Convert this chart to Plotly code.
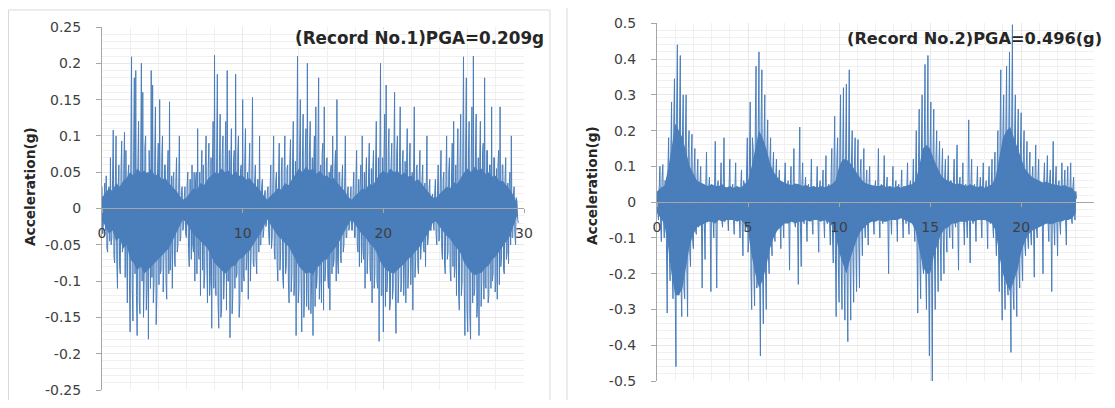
import numpy as np
import plotly.graph_objects as go

# ---------------- data (accelerations in milli-g) ----------------
DT1 = 0.05   # s, sample step of record No.1 as digitised
acc1_mg = [
    30, -35, -20, 20, 35, -30, 45, -55, -60, 25, 30, -45, 70, -50, -40, 40, 108, -65, -75, 35,
    100, -70, -110, 30, 60, -80, -90, 50, 93, -60, -50, 55, 105, -95, 80, -40, -130, 45, 60, -100,
    -170, 60, 209, -110, -155, 80, 180, -90, 190, -120, -175, 60, 120, -130, -145, 70, 200, -100, 160, -150,
    -90, 85, 100, -140, -110, 50, -180, 80, 40, -110, 190, -95, 170, -130, -100, 75, 140, -160, -120, 55,
    90, -105, 150, -90, -85, 70, 100, -115, -70, 60, 60, -100, -125, 50, 80, -90, 147, -85, -60, 45,
    -110, 40, 50, -70, -80, 35, 70, -60, -50, 25, 100, -45, -40, 25, 30, -30, -25, 15, 30, -35,
    -40, 30, 50, -55, -80, 40, 40, -70, 60, -50, -60, 50, -100, 40, 50, -90, 110, -60, -70, 50,
    -120, 45, 80, -85, 60, -110, -90, 60, 100, -75, -130, 55, 90, -120, -100, 70, -165, 60, 120, -110,
    211, -95, -120, 70, 185, -130, -165, 65, 130, -150, -140, 75, 100, -125, -90, 60, 120, -140, 190, -100,
    -100, 80, -178, 60, 110, -145, -120, 65, 80, -110, 185, -95, -90, 75, 100, -150, -130, 55, 60, -115,
    150, -90, -100, 65, 110, -85, -70, 50, -125, 50, 90, -100, -60, 45, 153, -75, -80, 35, 60, -70,
    -90, 40, 40, -60, 100, -50, -50, 30, 40, -40, -30, 20, 25, -25, -20, 20, 30, -35, -50, 25,
    60, -55, -40, 40, 100, -60, -70, 35, 50, -75, -100, 45, 90, -85, -60, 50, 70, -95, -110, 50,
    100, -90, -80, 55, 60, -100, -130, 60, 95, -115, -90, 70, 120, -120, -100, 65, -175, 60, 210, -130,
    -110, 80, 150, -95, -170, 70, 130, -150, -120, 75, 110, -135, 200, -110, -140, 80, 120, -145, -100, 70,
    -175, 60, 100, -135, 140, -110, -90, 80, 180, -125, -100, 60, -130, 75, 90, -140, 140, -100, -80, 65,
    70, -95, -110, 50, -140, 55, 60, -90, 100, -80, -70, 55, 80, -100, 150, -70, -90, 50, 50, -65,
    -75, 35, 60, -60, -50, 30, 100, -40, -40, 25, 30, -30, -25, 15, 30, -30, -30, 25, 50, -40,
    -40, 35, 80, -50, -60, 40, -80, 30, 60, -75, 100, -55, -70, 50, -110, 40, 70, -90, -60, 50,
    90, -80, -100, 55, -130, 50, 80, -110, -90, 60, 120, -100, -110, 70, -183, 60, 200, -120, -120, 70,
    -170, 65, 130, -135, 170, -115, -100, 80, 110, -140, -130, 60, 90, -125, -110, 70, 160, -100, -172, 75,
    100, -130, -90, 70, 140, -115, -100, 60, 80, -120, -70, 65, -130, 55, 110, -110, -80, 60, 90, -105,
    -60, 50, -140, 50, 140, -95, -70, 55, 60, -80, -90, 40, 80, -70, -50, 40, 60, -55, -60, 35,
    -80, 30, 100, -50, -40, 25, 40, -30, -30, 15, 20, -20, -30, 20, 40, -35, -50, 25, 60, -45,
    -40, 35, 80, -55, -70, 40, 50, -75, -90, 40, 100, -70, -60, 50, 70, -85, -100, 50, 90, -80,
    120, -95, -80, 60, -120, 55, 110, -115, -140, 65, 130, -120, -100, 70, 209, -105, -175, 80, 180, -140,
    -170, 75, 120, -145, -180, 70, 140, -130, 210, -120, -110, 80, 130, -150, -130, 70, -175, 65, 120, -135,
    -100, 75, 90, -125, 180, -105, -110, 80, 80, -130, -120, 60, 60, -110, 140, -100, -90, 70, 70, -115,
    -100, 55, -125, 60, 80, -105, 140, -80, -70, 60, 60, -85, -90, 40, 70, -70, -60, 35, -76, 30,
    50, -50, 100, -40, -40, 20, 30, -35, -50, 15, 10, -15, -20,
]
# dense (solid) core of record No.1, milli-g, one value every CORE1_DT s
CORE1_DT = 0.25
core1_up = [
    15, 22, 28, 24, 35, 30, 38, 42, 50, 45, 55, 50, 52, 48, 55, 45, 48, 40, 42, 35, 30, 25, 18, 12,
    15, 22, 28, 25, 35, 32, 40, 45, 50, 48, 55, 50, 52, 46, 52, 45, 45, 40, 42, 35, 30, 25, 18, 12,
    18, 22, 28, 26, 35, 32, 40, 48, 55, 50, 58, 52, 55, 48, 52, 45, 45, 40, 42, 35, 30, 24, 16,
    12, 18, 22, 28, 26, 34, 32, 40, 48, 52, 48, 55, 50, 52, 46, 50, 44, 45, 38, 40, 34, 28, 22, 15,
    15, 20, 25, 30, 28, 36, 34, 42, 50, 55, 50, 58, 52, 55, 48, 50, 44, 45, 38, 38, 32, 26, 18, 8,
]
core1_lo = [
    -15, -25, -35, -30, -45, -40, -55, -50, -70, -75, -85, -80, -90, -85, -80, -75, -70, -65, -60, -55, -45, -35, -25, -15,
    -20, -28, -35, -40, -45, -50, -55, -65, -75, -80, -85, -90, -85, -80, -78, -70, -68, -62, -58, -50, -42, -35, -25, -15,
    -22, -30, -38, -42, -48, -52, -60, -70, -80, -85, -90, -88, -92, -82, -78, -72, -70, -62, -56, -50, -42, -32, -22,
    -15, -22, -30, -36, -40, -48, -52, -60, -72, -80, -85, -88, -90, -85, -80, -76, -70, -66, -60, -55, -48, -40, -32, -20,
    -18, -25, -32, -38, -42, -50, -55, -62, -75, -82, -88, -92, -90, -88, -82, -78, -70, -66, -60, -52, -45, -38, -25, -10,
]

DT2 = 0.04  # s, sample step of record No.2 as digitised
acc2_mg = [
    15, -30, -50, 40, 100, -60, -110, 70, 105, -50, -100, 60, 50, -120, -310, 90, 180, -150, -220, 140,
    280, -200, -270, 220, 345, -250, -460, 260, 440, -220, -260, 240, 410, -230, -320, 200, 300, -240, -270, 180,
    300, -180, -320, 150, 200, -140, -180, 120, 190, -110, -130, 90, 150, -80, -90, 70, 120, -70, -60, 50,
    100, -50, -240, 45, 40, -60, -160, 50, 140, -55, -50, 40, 70, -60, -250, 50, 30, -45, -100, 40,
    170, -55, -240, 50, 60, -40, -40, 35, 110, -50, -70, 45, 180, -55, -50, 40, 40, -35, -80, 45,
    120, -50, -30, 35, 50, -45, -90, 40, 110, -50, -40, 35, 30, -40, -100, 45, 90, -60, -150, 60,
    50, -80, -60, 90, 180, -140, -110, 130, 280, -200, -300, 180, 150, -200, -290, 220, 380, -240, -220, 200,
    420, -220, -430, 230, 370, -200, -340, 180, 300, -180, -300, 150, 230, -150, -200, 120, 180, -110, -150, 90,
    140, -80, -110, 70, 120, -60, -60, 55, 90, -50, -130, 45, 50, -50, -100, 45, 110, -50, -40, 40,
    60, -45, -190, 40, 100, -50, -50, 45, 150, -55, -70, 40, 40, -50, -230, 60, 210, -70, -180, 50,
    110, -50, -60, 40, 70, -45, -110, 40, 50, -35, -40, 35, 120, -50, -90, 45, 40, -40, -50, 35,
    100, -45, -140, 40, 60, -50, -40, 35, 90, -45, -100, 40, 130, -55, -60, 45, 50, -60, -120, 70,
    150, -100, -170, 110, 240, -150, -320, 120, 180, -180, -280, 130, 300, -180, -300, 120, 320, -200, -330, 130,
    330, -200, -390, 120, 370, -160, -330, 110, 200, -140, -280, 100, 180, -120, -250, 90, 175, -100, -240, 80,
    120, -70, -150, 60, 150, -60, -100, 50, 90, -55, -120, 45, 100, -50, -50, 40, 40, -45, -90, 40,
    60, -50, -40, 35, 150, -45, -100, 40, 50, -40, -60, 35, 130, -50, -40, 40, 70, -45, -200, 45,
    40, -40, -90, 35, 100, -45, -50, 40, 60, -35, -110, 40, 50, -45, -40, 35, 90, -40, -100, 45,
    40, -45, -60, 40, 110, -50, -90, 45, 60, -50, -40, 40, 120, -60, -110, 70, 200, -120, -310, 100,
    260, -160, -270, 140, 300, -180, -200, 150, 385, -190, -300, 160, 410, -200, -430, 150, 280, -180, -500, 140,
    260, -150, -300, 120, 200, -120, -250, 100, 170, -110, -220, 80, 150, -90, -200, 70, 120, -80, -140, 60,
    130, -65, -100, 60, 60, -60, -130, 55, 120, -50, -70, 50, 160, -55, -190, 50, 70, -45, -50, 40,
    110, -50, -120, 45, 50, -45, -100, 50, 230, -55, -170, 45, 120, -50, -60, 40, 50, -45, -110, 40,
    100, -45, -40, 35, 70, -50, -100, 40, 110, -45, -40, 40, 60, -50, -130, 45, 100, -55, -60, 50,
    120, -60, -100, 60, 140, -90, -150, 90, 200, -150, -250, 170, 370, -200, -330, 200, 300, -220, -300, 210,
    380, -230, -260, 200, 420, -240, -420, 210, 496, -250, -300, 190, 300, -200, -320, 160, 260, -190, -240, 150,
    250, -160, -220, 130, 200, -120, -150, 100, 170, -100, -130, 85, 140, -85, -120, 70, 100, -75, -210, 65,
    160, -70, -100, 60, 120, -60, -60, 55, 50, -60, -200, 55, 110, -60, -50, 50, 130, -60, -110, 55,
    90, -55, -250, 50, 170, -55, -120, 50, 100, -55, -150, 50, 60, -55, -90, 45, 110, -50, -50, 45,
    90, -50, -120, 45, 100, -45, -40, 40, 110, -45, -60, 40, 70, -40, -50, 30, 10,
]
# dense (solid) core of record No.2, milli-g, one value every CORE2_DT s
CORE2_DT = 0.2
core2_up = [
    30, 40, 45, 90, 150, 220, 200, 180, 140, 100, 80, 60, 55, 50, 45, 50, 45, 45, 50, 40, 45, 40, 45, 40, 50,
    60, 100, 150, 200, 180, 150, 110, 85, 70, 60, 55, 50, 48, 52, 50, 45, 48, 42, 45, 40, 45, 42, 45, 50,
    60, 100, 120, 120, 110, 95, 80, 65, 55, 50, 48, 45, 45, 48, 42, 45, 40, 45, 40, 45, 48, 50,
    60, 100, 150, 160, 150, 120, 95, 75, 65, 60, 55, 50, 52, 48, 45, 50, 45, 42, 45, 40, 45, 50,
    70, 120, 180, 200, 210, 180, 150, 120, 95, 80, 70, 65, 60, 55, 58, 52, 50, 48, 45, 48, 42, 40, 25,
]
core2_lo = [
    -30, -45, -60, -120, -200, -260, -260, -240, -180, -120, -90, -70, -65, -60, -55, -55, -60, -50, -55, -50, -50, -50, -55, -50, -60,
    -80, -150, -200, -240, -220, -180, -130, -100, -80, -70, -60, -60, -55, -60, -55, -55, -50, -55, -50, -50, -55, -50, -55, -65,
    -90, -140, -170, -200, -160, -130, -100, -80, -70, -60, -55, -55, -50, -55, -55, -50, -50, -50, -45, -50, -55, -60,
    -80, -130, -180, -200, -200, -150, -120, -90, -75, -70, -60, -60, -55, -55, -55, -50, -55, -50, -50, -50, -55, -60,
    -80, -150, -200, -230, -250, -220, -190, -140, -110, -90, -80, -75, -70, -65, -60, -62, -60, -55, -55, -50, -50, -45, -30,
]

x1_range = [0, 30]
x1_tickvals = [0, 10, 20, 30]
y1_range = [-0.25, 0.25]
y1_tickvals = [0.25, 0.2, 0.15, 0.1, 0.05, 0, -0.05, -0.1, -0.15, -0.2, -0.25]
y1_ticktext = ["0.25", "0.2", "0.15", "0.1", "0.05", "0", "-0.05", "-0.1", "-0.15", "-0.2", "-0.25"]

x2_range = [0, 24]
x2_tickvals = [0, 5, 10, 15, 20]
y2_range = [-0.5, 0.5]
y2_tickvals = [0.5, 0.4, 0.3, 0.2, 0.1, 0, -0.1, -0.2, -0.3, -0.4, -0.5]
y2_ticktext = ["0.5", "0.4", "0.3", "0.2", "0.1", "0", "-0.1", "-0.2", "-0.3", "-0.4", "-0.5"]

title1 = "(Record No.1)PGA=0.209g"
title2 = "(Record No.2)PGA=0.496(g)"
y_title = "Acceleration(g)"

# ---------------- figure ----------------
# the page body keeps an 8px margin, so the figure is sized to fill the window exactly
OX, OY = 8, 8
W, H = 1115 - 2 * OX, 408 - 2 * OY


def px(x):
    return (x - OX) / W


def py(y):
    return 1 - (y - OY) / H


LINE = "#4a7ebb"
AXC = "#a6a6a6"
GRID = "#e8e8e8"
MINOR = "#f0f0f0"
TXT = "#404040"
FONT = "DejaVu Sans"
tickfont = dict(family=FONT, size=14, color=TXT)

fig = go.Figure()


def add_record(dt, acc, cdt, cu, cl, xa, ya):
    t = np.arange(len(acc)) * dt
    a = np.array(acc) / 1000.0
    ct = np.arange(len(cu)) * cdt
    cu = np.array(cu) / 1000.0
    cl = np.array(cl) / 1000.0
    fig.add_trace(go.Scatter(
        x=np.concatenate([ct, ct[::-1]]), y=np.concatenate([cu, cl[::-1]]),
        mode="lines", fill="toself", fillcolor=LINE, line=dict(width=0, color=LINE),
        xaxis=xa, yaxis=ya, showlegend=False, hoverinfo="skip"))
    fig.add_trace(go.Scatter(x=t, y=a, mode="lines", line=dict(color=LINE, width=1.0),
                             xaxis=xa, yaxis=ya, showlegend=False, hoverinfo="skip"))


add_record(DT1, acc1_mg, CORE1_DT, core1_up, core1_lo, "x", "y")
add_record(DT2, acc2_mg, CORE2_DT, core2_up, core2_lo, "x2", "y2")


def xax(domain, rng, tickvals, pos, minor_dtick):
    return dict(domain=domain, range=rng, anchor="free", position=pos, automargin=False,
                tickmode="array", tickvals=tickvals, showline=True, linecolor=AXC, linewidth=1,
                ticks="outside", ticklen=4, tickcolor=AXC, ticklabelstandoff=8,
                showgrid=True, gridcolor=GRID, gridwidth=1, zeroline=False,
                minor=dict(tickmode="linear", tick0=0, dtick=minor_dtick, showgrid=True,
                           gridcolor=MINOR, ticks=""),
                tickfont=tickfont, fixedrange=True)


def yax(domain, rng, tickvals, ticktext, anchor, minor_dtick):
    return dict(domain=domain, range=rng, anchor=anchor, tickmode="array", automargin=False,
                tickvals=tickvals, ticktext=ticktext, showline=True, linecolor=AXC,
                linewidth=1, ticks="outside", ticklen=5, tickcolor=AXC, ticklabelstandoff=12,
                showgrid=True, gridcolor=GRID, gridwidth=1, zeroline=False,
                minor=dict(tickmode="linear", tick0=0, dtick=minor_dtick, showgrid=True,
                           gridcolor=MINOR, ticks=""),
                tickfont=tickfont, fixedrange=True)


fig.update_layout(
    width=W, height=H, autosize=False,
    margin=dict(l=0, r=0, t=0, b=0, pad=0, autoexpand=False),
    paper_bgcolor="white", plot_bgcolor="white",
    showlegend=False,
    xaxis=xax([px(102), px(524)], x1_range, x1_tickvals, py(208), 2),
    yaxis=yax([py(390), py(27)], y1_range, y1_tickvals, y1_ticktext, "x", 0.01),
    xaxis2=xax([px(657), px(1094)], x2_range, x2_tickvals, py(201.7), 1),
    yaxis2=yax([py(381), py(23.3)], y2_range, y2_tickvals, y2_ticktext, "x2", 0.02),
    shapes=[
        dict(type="rect", xref="paper", yref="paper", x0=px(8.5), x1=px(550), y0=-0.2, y1=py(10),
             line=dict(color="#d9d9d9", width=1), fillcolor="rgba(0,0,0,0)", layer="below"),
        dict(type="rect", xref="paper", yref="paper", x0=px(567), x1=1.2, y0=-0.2, y1=py(6.7),
             line=dict(color="#d9d9d9", width=1), fillcolor="rgba(0,0,0,0)", layer="below"),
    ],
    annotations=[
        dict(text="<b>" + title1 + "</b>", xref="paper", yref="paper", x=px(419.5), y=py(38),
             xanchor="center", yanchor="middle", showarrow=False,
             font=dict(family=FONT, size=16.8, color="#262626")),
        dict(text="<b>" + title2 + "</b>", xref="paper", yref="paper", x=px(974), y=py(38),
             xanchor="center", yanchor="middle", showarrow=False,
             font=dict(family=FONT, size=16.2, color="#262626")),
        dict(text="<b>" + y_title + "</b>", xref="paper", yref="paper", x=px(30), y=py(187),
             xanchor="center", yanchor="middle", textangle=-90, showarrow=False,
             font=dict(family=FONT, size=13.7, color="#262626")),
        dict(text="<b>" + y_title + "</b>", xref="paper", yref="paper", x=px(592), y=py(186),
             xanchor="center", yanchor="middle", textangle=-90, showarrow=False,
             font=dict(family=FONT, size=13.7, color="#262626")),
    ],
)

fig.write_html("out.html")
